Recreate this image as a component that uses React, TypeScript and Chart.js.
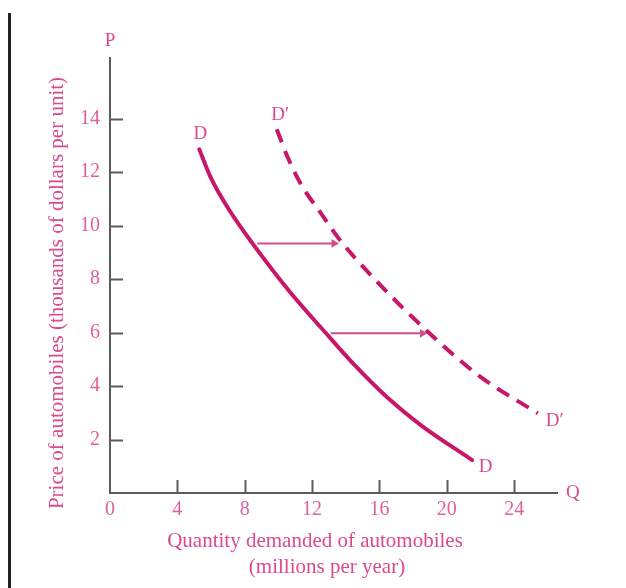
import React, { useEffect, useRef } from "react";
import { Chart, registerables } from "chart.js";

Chart.register(...registerables);

// Demand curve D (quantity in millions, price in thousands $)
const dQuantity = [5.3, 6.0, 7.1, 8.45, 10.6, 12.8, 14.6, 16.5, 18.45, 21.5];
const dPrice = [12.85, 11.77, 10.56, 9.34, 7.58, 5.99, 4.73, 3.55, 2.54, 1.23];

// Shifted demand curve D'
const dPrimeQuantity = [9.9, 10.6, 11.4, 12.5, 13.6, 15.6, 18.87, 22.0, 25.4];
const dPrimePrice = [13.6, 12.48, 11.48, 10.48, 9.5, 8.07, 6.03, 4.34, 2.98];

// Shift arrows
const arrowUpperQuantity = [8.75, 13.3];
const arrowUpperPrice = [9.33, 9.33];
const arrowLowerQuantity = [13.1, 18.55];
const arrowLowerPrice = [5.97, 5.97];

// Axes
const xTickValues = [0, 4, 8, 12, 16, 20, 24];
const yTickValues = [2, 4, 6, 8, 10, 12, 14];
const xMax = 26.6;
const yMax = 16.3;

// Text
const curveLabelText = ["D", "D\u2032", "D", "D\u2032"];
const curveLabelQuantity = [5.36, 10.1, 22.3, 26.4];
const curveLabelPrice = [13.43, 14.14, 0.97, 2.69];
const xTitleLines = ["Quantity demanded of automobiles", "(millions per year)"];
const yTitle = "Price of automobiles (thousands of dollars per unit)";
const xAxisLetter = "Q";
const yAxisLetter = "P";

const FONT = "'Liberation Serif', 'DejaVu Serif', serif";
const LINE_COLOR = "#c8176a";
const ARROW_COLOR = "#cf4f8c";
const TEXT_COLOR = "#dc4a8d";
const TICK_COLOR = "#e0609c";
const AXIS_COLOR = "#5c5c5c";

const toPoints = (xs: number[], ys: number[]) => xs.map((x, i) => ({ x, y: ys[i] }));

const decorPlugin = {
  id: "decor",
  afterDraw(chart: any) {
    const { ctx, chartArea, scales } = chart;
    const xs = scales.x;
    const ys = scales.y;
    const x0 = xs.getPixelForValue(0);
    const y0 = ys.getPixelForValue(0);
    ctx.save();

    // left border line
    ctx.strokeStyle = "#222";
    ctx.lineWidth = 3;
    ctx.beginPath();
    ctx.moveTo(9.5, 13);
    ctx.lineTo(9.5, chart.height);
    ctx.stroke();

    // axes
    ctx.strokeStyle = AXIS_COLOR;
    ctx.lineWidth = 2;
    ctx.beginPath();
    ctx.moveTo(x0, chartArea.top);
    ctx.lineTo(x0, y0);
    ctx.lineTo(chartArea.right, y0);
    ctx.stroke();

    // inner tick marks
    ctx.beginPath();
    yTickValues.forEach((v) => {
      const py = Math.round(ys.getPixelForValue(v)) + 0.5;
      ctx.moveTo(x0, py);
      ctx.lineTo(x0 + 13, py);
    });
    xTickValues.forEach((v) => {
      if (v === 0) return;
      const px = Math.round(xs.getPixelForValue(v)) + 0.5;
      ctx.moveTo(px, y0);
      ctx.lineTo(px, y0 - 13);
    });
    ctx.stroke();

    // axis letters
    ctx.fillStyle = TEXT_COLOR;
    ctx.font = `19px ${FONT}`;
    ctx.textAlign = "center";
    ctx.textBaseline = "middle";
    ctx.fillText(yAxisLetter, x0, chartArea.top - 16);
    ctx.textAlign = "left";
    ctx.fillText(xAxisLetter, chartArea.right + 8, y0);

    // curve labels
    ctx.textAlign = "center";
    ctx.font = `19px ${FONT}`;
    curveLabelText.forEach((t, i) => {
      ctx.fillText(
        t,
        xs.getPixelForValue(curveLabelQuantity[i]),
        ys.getPixelForValue(curveLabelPrice[i])
      );
    });

    // x title
    ctx.font = `21px ${FONT}`;
    ctx.fillText(xTitleLines[0], 315, y0 + 48);
    ctx.fillText(xTitleLines[1], 327, y0 + 74);

    // y title
    ctx.translate(57, 293);
    ctx.rotate(-Math.PI / 2);
    ctx.fillText(yTitle, 0, 0);
    ctx.restore();
  },
};

export default function App() {
  const canvasRef = useRef<HTMLCanvasElement | null>(null);

  useEffect(() => {
    if (!canvasRef.current) return;
    const chart = new Chart(canvasRef.current, {
      type: "line",
      data: {
        datasets: [
          {
            label: "D",
            data: toPoints(dQuantity, dPrice),
            borderColor: LINE_COLOR,
            borderWidth: 4,
            pointRadius: 0,
            cubicInterpolationMode: "monotone",
            borderCapStyle: "round",
            fill: false,
          },
          {
            label: "D'",
            data: toPoints(dPrimeQuantity, dPrimePrice),
            borderColor: LINE_COLOR,
            borderWidth: 4,
            borderDash: [14, 9],
            pointRadius: 0,
            cubicInterpolationMode: "monotone",
            fill: false,
          },
          {
            label: "shift1",
            data: toPoints(arrowUpperQuantity, arrowUpperPrice),
            borderColor: ARROW_COLOR,
            backgroundColor: ARROW_COLOR,
            borderWidth: 2,
            pointRadius: [0, 5],
            pointStyle: "triangle",
            rotation: 90,
            pointBorderWidth: 0,
            fill: false,
          },
          {
            label: "shift2",
            data: toPoints(arrowLowerQuantity, arrowLowerPrice),
            borderColor: ARROW_COLOR,
            backgroundColor: ARROW_COLOR,
            borderWidth: 2,
            pointRadius: [0, 5],
            pointStyle: "triangle",
            rotation: 90,
            pointBorderWidth: 0,
            fill: false,
          },
        ],
      } as any,
      options: {
        responsive: false,
        animation: false,
        layout: { padding: { top: 57, right: 68, left: 0, bottom: 0 } },
        plugins: { legend: { display: false }, tooltip: { enabled: false } },
        scales: {
          x: {
            type: "linear",
            min: 0,
            max: xMax,
            grid: { display: false, drawTicks: false },
            border: { display: false },
            afterBuildTicks: (scale: any) => {
              scale.ticks = xTickValues.map((v) => ({ value: v }));
            },
            afterFit: (scale: any) => {
              scale.height = 95;
            },
            ticks: {
              padding: 5,
              color: TICK_COLOR,
              font: { family: FONT, size: 20 },
              maxRotation: 0,
              autoSkip: false,
              callback: (v: any) => String(v),
            },
          },
          y: {
            type: "linear",
            min: 0,
            max: yMax,
            grid: { display: false, drawTicks: false },
            border: { display: false },
            afterBuildTicks: (scale: any) => {
              scale.ticks = yTickValues.map((v) => ({ value: v }));
            },
            afterFit: (scale: any) => {
              scale.width = 110;
            },
            ticks: {
              padding: 10,
              color: TICK_COLOR,
              font: { family: FONT, size: 20 },
              autoSkip: false,
              callback: (v: any) => String(v),
            },
          },
        },
      } as any,
      plugins: [decorPlugin],
    });
    return () => chart.destroy();
  }, []);

  return (
    <div style={{ position: "absolute", left: 0, top: 0, width: 626, height: 588, background: "#fff" }}>
      <canvas ref={canvasRef} width={626} height={588} />
    </div>
  );
}
